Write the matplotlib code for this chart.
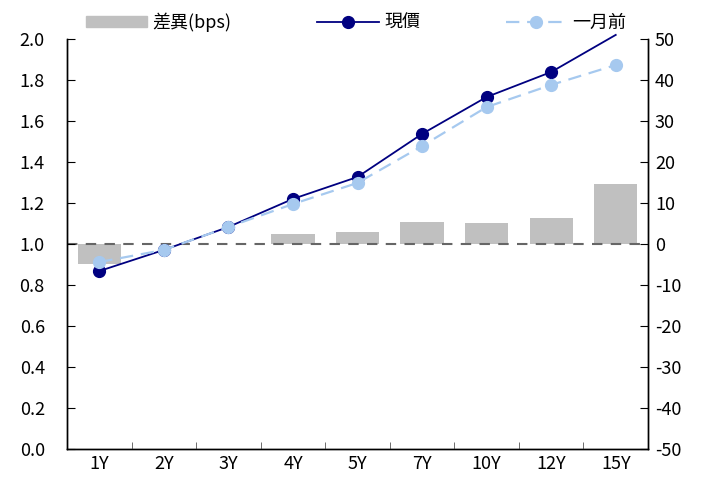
import numpy as np
from matplotlib import pyplot as plt
from matplotlib.lines import Line2D
from matplotlib.patches import Patch

plt.rcParams['font.family'] = ['Noto Sans CJK TC', 'DejaVu Sans']
plt.rcParams['axes.unicode_minus'] = False

tenors = ['1Y', '2Y', '3Y', '4Y', '5Y', '7Y', '10Y', '12Y', '15Y']
now = [0.868, 0.971, 1.083, 1.220, 1.327, 1.537, 1.717, 1.839, 2.020]
month_ago = [0.912, 0.971, 1.083, 1.195, 1.298, 1.478, 1.668, 1.776, 1.873]
diff_bps = [-4.8, 0.0, 0.0, 2.5, 3.0, 5.4, 5.2, 6.3, 14.6]

navy = '#000080'
light = '#a6c9ef'
grey = '#c0c0c0'

fig = plt.figure(figsize=(7.15, 4.9), dpi=100)
ax = fig.add_axes([0.0937, 0.0837, 0.8126, 0.8367])
ax2 = ax.twinx()
ax.set_zorder(ax2.get_zorder() + 1)
ax.patch.set_visible(False)

x = np.arange(len(tenors))

# 差異 bars on the right axis
ax2.bar(x, diff_bps, width=0.67, color=grey, zorder=1)
ax2.axhline(0, color='#666666', lw=1.5, dashes=(5, 4), zorder=2)
ax2.set_ylim(-50, 50)
ax2.set_yticks(range(-50, 51, 10))

# yield curves on the left axis (the last 現價 point sits above 2.0, so no marker)
ax.plot(x, now, color=navy, lw=1.3, clip_on=False, zorder=3)
ax.plot(x[:-1], now[:-1], ls='none', marker='o', ms=8.5, color=navy, zorder=3)
ax.plot(x, month_ago, color=light, lw=1.6, dashes=(6, 3.5), clip_on=False, zorder=4)
ax.plot(x, month_ago, ls='none', marker='o', ms=8.5, color=light, zorder=4)
ax.set_ylim(0, 2.0)
ax.set_yticks(np.arange(0, 2.01, 0.2))
ax.set_yticklabels(['%.1f' % v for v in np.arange(0, 2.01, 0.2)])
ax.set_xlim(-0.5, len(tenors) - 0.5)

ax.set_xticks(x)
ax.set_xticklabels(tenors)
ax.set_xticks(np.arange(0.5, len(tenors) - 1, 1), minor=True)
ax.tick_params(axis='x', which='major', length=0, pad=4, labelsize=13)
ax.tick_params(axis='x', which='minor', direction='in', length=5, color='#555555')
ax.tick_params(axis='y', direction='in', length=6, labelsize=13, pad=16)
ax2.tick_params(axis='y', direction='in', length=6, labelsize=13, pad=5)

for a in (ax, ax2):
    a.spines['top'].set_visible(False)
    for s in ('left', 'right', 'bottom'):
        a.spines[s].set_color('black')
        a.spines[s].set_linewidth(1.0)

handles = [
    Patch(color=grey),
    Line2D([], [], color=navy, lw=1.3, marker='o', ms=8.5),
    Line2D([], [], color=light, lw=1.6, dashes=(6, 3.5), marker='o', ms=8.5),
]
fig.legend(handles, ['差異(bps)', '現價', '一月前'], ncol=3,
           loc='center left', bbox_to_anchor=(0.097, 0.955),
           frameon=False, fontsize=13, handlelength=3.4, handleheight=0.6,
           handletextpad=0.3, columnspacing=4.75)

fig.savefig('out.png', dpi=100)
